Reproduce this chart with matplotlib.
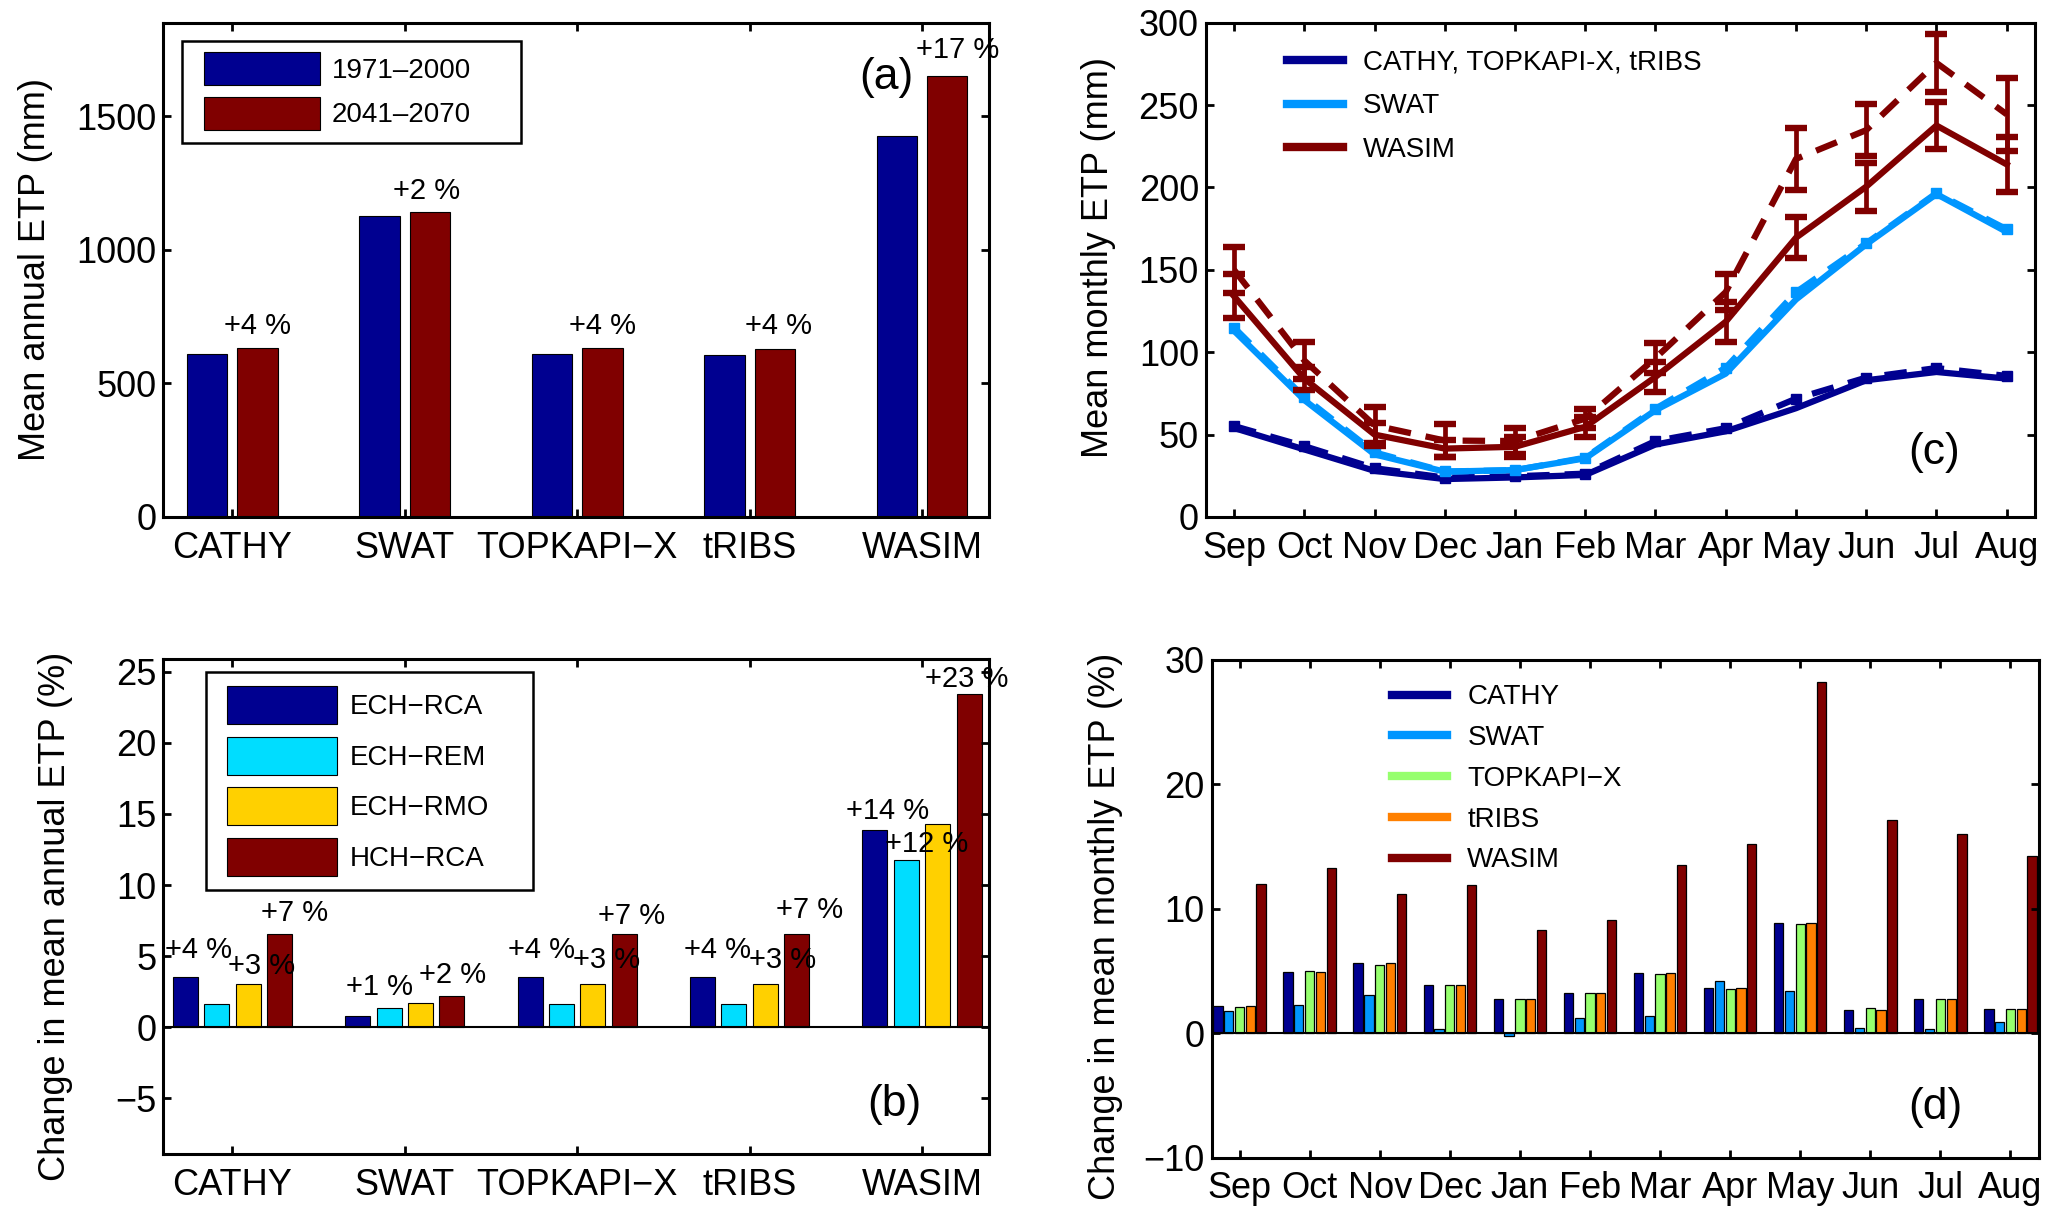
import numpy as np
import matplotlib
matplotlib.use('Agg')
import matplotlib.pyplot as plt
from matplotlib.patches import Patch, Rectangle
from matplotlib.lines import Line2D

plt.rcParams['font.family'] = ['Liberation Sans', 'DejaVu Sans']

# ---------------- data ----------------
models = ['CATHY', 'SWAT', 'TOPKAPI\u2212X', 'tRIBS', 'WASIM']
periods = ['1971\u20132000', '2041\u20132070']
etp_ref = [610, 1125, 610, 605, 1426]
etp_fut = [631, 1143, 631, 627, 1652]
labels_a = ['+4 %', '+2 %', '+4 %', '+4 %', '+17 %']

scenarios = ['ECH\u2212RCA', 'ECH\u2212REM', 'ECH\u2212RMO', 'HCH\u2212RCA']
chg_ech_rca = [3.57, 0.77, 3.57, 3.57, 13.87]
chg_ech_rem = [1.65, 1.37, 1.65, 1.65, 11.76]
chg_ech_rmo = [3.05, 1.73, 3.05, 3.05, 14.31]
chg_hch_rca = [6.54, 2.20, 6.54, 6.54, 23.40]
# (model index, scenario index, text)
labels_b = [(0, 0, '+4 %'), (0, 2, '+3 %'), (0, 3, '+7 %'),
            (1, 0, '+1 %'), (1, 3, '+2 %'),
            (2, 0, '+4 %'), (2, 2, '+3 %'), (2, 3, '+7 %'),
            (3, 0, '+4 %'), (3, 2, '+3 %'), (3, 3, '+7 %'),
            (4, 0, '+14 %'), (4, 1, '+12 %'), (4, 3, '+23 %')]

months = ['Sep', 'Oct', 'Nov', 'Dec', 'Jan', 'Feb', 'Mar', 'Apr', 'May', 'Jun', 'Jul', 'Aug']
line_names = ['CATHY, TOPKAPI-X, tRIBS', 'SWAT', 'WASIM']
cathy_ref = [54, 41, 28, 23, 24, 25.5, 44, 52, 66, 83, 88, 84]
cathy_fut = [55.2, 43, 29.6, 23.9, 24.7, 26.3, 46.1, 53.9, 71.8, 84.6, 90.4, 85.6]
swat_ref = [113, 71, 38, 27.5, 28.5, 35.6, 64.8, 87, 132, 165.5, 196, 173]
swat_fut = [115, 72.6, 39.2, 27.6, 28.4, 36, 65.7, 90.6, 136.4, 166.1, 196.6, 174.6]
wasim_ref = [134, 84, 50, 41.5, 42.6, 54.7, 85, 118.5, 169.5, 200.5, 237.6, 214]
wasim_fut = [150, 95, 55.6, 46.4, 46.1, 59.7, 96.5, 136.5, 217.3, 234.8, 275.6, 244.4]
wasim_ref_err = [13.5, 7, 7, 5, 6, 6, 9, 12, 12.6, 14.6, 14, 16.6]
wasim_fut_err = [14, 11, 11, 10, 8, 6, 9, 11, 18.6, 16, 17.7, 22.2]

cathy_pct = [2.17, 4.87, 5.6, 3.87, 2.77, 3.2, 4.84, 3.62, 8.8, 1.89, 2.74, 1.92]
swat_pct = [1.79, 2.23, 3.05, 0.31, -0.25, 1.19, 1.38, 4.18, 3.36, 0.38, 0.31, 0.91]
topkapi_pct = [2.08, 5.0, 5.44, 3.87, 2.77, 3.2, 4.78, 3.55, 8.77, 2.0, 2.74, 1.92]
tribs_pct = [2.17, 4.87, 5.6, 3.84, 2.74, 3.2, 4.84, 3.62, 8.8, 1.89, 2.74, 1.92]
wasim_pct = [12.0, 13.24, 11.16, 11.86, 8.3, 9.09, 13.46, 15.22, 28.2, 17.1, 16.0, 14.2]

# ---------------- style ----------------
NAVY = '#000090'
MAROON = '#800000'
LBLUE = '#0096FF'
CYAN = '#00DDFF'
GOLD = '#FFD000'
LGREEN = '#96FF6E'
ORANGE = '#FF8000'
TICK_FS = 26
LEG_FS = 20


def style(ax):
    for s in ax.spines.values():
        s.set_linewidth(2.2)
    ax.tick_params(direction='in', length=6, width=2, top=True, right=True,
                   labelsize=TICK_FS)
    ax.tick_params(axis='x', pad=10)
    ax.tick_params(axis='y', pad=5)


def boxed_legend(ax, handles, labels, box, anchor, hl, hh, ls):
    ax.add_patch(Rectangle((box[0], box[1]), box[2] - box[0], box[3] - box[1],
                           transform=ax.transAxes, facecolor='white',
                           edgecolor='k', linewidth=1.8, zorder=4))
    leg = ax.legend(handles, labels, loc='upper left', bbox_to_anchor=anchor,
                    borderaxespad=0, borderpad=0, frameon=False,
                    fontsize=LEG_FS, handlelength=hl, handleheight=hh,
                    handletextpad=0.43, labelspacing=ls)
    leg.set_zorder(5)
    return leg


fig = plt.figure(figsize=(20.66, 12.21), dpi=100)
ax_a = fig.add_axes([0.0791, 0.5768, 0.3997, 0.4046])
ax_c = fig.add_axes([0.5837, 0.5766, 0.4012, 0.4048])
ax_b = fig.add_axes([0.0791, 0.0549, 0.3997, 0.4052])
ax_d = fig.add_axes([0.5864, 0.0520, 0.4003, 0.4078])

# ---------------- (a) ----------------
x5 = np.arange(1, 6)
ax_a.bar(x5 - 0.146, etp_ref, 0.234, color=NAVY, edgecolor='k', linewidth=0.8)
ax_a.bar(x5 + 0.146, etp_fut, 0.234, color=MAROON, edgecolor='k', linewidth=0.8)
a_dx = [0, -0.02, 0, 0.02, 0.061]
a_dy = [85, 77, 85, 86, 95]
for i in range(5):
    ax_a.text(x5[i] + 0.146 + a_dx[i], etp_fut[i] + a_dy[i], labels_a[i],
              ha='center', va='center', fontsize=21)
ax_a.set_xlim(0.6, 5.39)
ax_a.set_ylim(0, 1850)
ax_a.set_xticks(x5)
ax_a.set_xticklabels(models)
ax_a.set_yticks([0, 500, 1000, 1500])
style(ax_a)
ax_a.set_ylabel('Mean annual ETP (mm)', fontsize=26)
ax_a.yaxis.set_label_coords(-0.134, 0.5)
ax_a.text(0.875, 0.89, '(a)', transform=ax_a.transAxes, fontsize=32,
          ha='center', va='center')
h_a = [Patch(facecolor=NAVY, edgecolor='k', linewidth=0.8),
       Patch(facecolor=MAROON, edgecolor='k', linewidth=0.8)]
boxed_legend(ax_a, h_a, periods, box=(0.022, 0.756, 0.4327, 0.962),
             anchor=(0.0494, 0.9407), hl=4.16, hh=1.45, ls=0.42)

# ---------------- (b) ----------------
chg = [chg_ech_rca, chg_ech_rem, chg_ech_rmo, chg_hch_rca]
cols_b = [NAVY, CYAN, GOLD, MAROON]
offs_b = [-0.273, -0.091, 0.091, 0.273]
for k in range(4):
    ax_b.bar(x5 + offs_b[k], chg[k], 0.145, color=cols_b[k], edgecolor='k',
             linewidth=0.8)
b_dx = [0.075, 0.08, 0.085, 0.125, 0.005, 0.065, 0.08, 0.045, 0.085, 0.1, 0.075,
        0.075, 0.12, -0.015]
b_dy = [1.87, 1.29, 1.51, 2.06, 1.45, 1.87, 1.65, 1.29, 1.87, 1.65, 1.7, 1.32,
        1.1, 1.05]
for j, (m, s, t) in enumerate(labels_b):
    ax_b.text(x5[m] + offs_b[s] + b_dx[j], chg[s][m] + b_dy[j], t,
              ha='center', va='center', fontsize=21)
ax_b.axhline(0, color='k', linewidth=1.5)
ax_b.set_xlim(0.6, 5.39)
ax_b.set_ylim(-8.9, 25.87)
ax_b.set_xticks(x5)
ax_b.set_xticklabels(models)
ax_b.set_yticks([-5, 0, 5, 10, 15, 20, 25])
style(ax_b)
ax_b.set_ylabel('Change in mean annual ETP (%)', fontsize=26)
ax_b.yaxis.set_label_coords(-0.109, 0.481)
ax_b.text(0.885, 0.1, '(b)', transform=ax_b.transAxes, fontsize=32,
          ha='center', va='center')
h_b = [Patch(facecolor=c, edgecolor='k', linewidth=0.8) for c in cols_b]
boxed_legend(ax_b, h_b, scenarios, box=(0.0511, 0.534, 0.448, 0.975),
             anchor=(0.0769, 0.946), hl=3.98, hh=1.726, ls=0.457)

# ---------------- (c) ----------------
x12 = np.arange(1, 13)
dash = (0, (3.6, 2.4))
LW = 4.5
ax_c.plot(x12, cathy_ref, color=NAVY, lw=LW, solid_capstyle='butt')
ax_c.plot(x12, cathy_fut, color=NAVY, lw=LW, ls=dash, marker='s', ms=7)
ax_c.plot(x12, swat_ref, color=LBLUE, lw=LW, solid_capstyle='butt')
ax_c.plot(x12, swat_fut, color=LBLUE, lw=LW, ls=dash, marker='s', ms=7)
ax_c.plot(x12, wasim_ref, color=MAROON, lw=LW)
ax_c.plot(x12, wasim_fut, color=MAROON, lw=LW, ls=dash)
ax_c.errorbar(x12, wasim_ref, yerr=wasim_ref_err, fmt='none', ecolor=MAROON,
              elinewidth=3.4, capsize=8, capthick=4.6)
ax_c.errorbar(x12, wasim_fut, yerr=wasim_fut_err, fmt='none', ecolor=MAROON,
              elinewidth=3.4, capsize=8, capthick=4.6)
ax_c.set_xlim(0.6, 12.4)
ax_c.set_ylim(0, 300)
ax_c.set_xticks(x12)
ax_c.set_xticklabels(months)
ax_c.set_yticks(np.arange(0, 301, 50))
style(ax_c)
ax_c.set_ylabel('Mean monthly ETP (mm)', fontsize=26)
ax_c.yaxis.set_label_coords(-0.108, 0.525)
ax_c.text(0.879, 0.13, '(c)', transform=ax_c.transAxes, fontsize=32,
          ha='center', va='center')
h_c = [Line2D([], [], color=c, lw=6) for c in [NAVY, LBLUE, MAROON]]
ax_c.legend(h_c, line_names, loc='upper left', bbox_to_anchor=(0.098, 0.945),
            borderaxespad=0, borderpad=0, frameon=False, fontsize=LEG_FS,
            handlelength=2.0, handletextpad=0.72, labelspacing=0.63)

# ---------------- (d) ----------------
pct = [cathy_pct, swat_pct, topkapi_pct, tribs_pct, wasim_pct]
cols_d = [NAVY, LBLUE, LGREEN, ORANGE, MAROON]
offs_d = [-0.308, -0.154, 0.0, 0.154, 0.308]
for k in range(5):
    ax_d.bar(x12 + offs_d[k], pct[k], 0.132, color=cols_d[k], edgecolor='k',
             linewidth=0.9)
ax_d.axhline(0, color='k', linewidth=1.5)
ax_d.set_xlim(0.6, 12.4)
ax_d.set_ylim(-10, 30)
ax_d.set_xticks(x12)
ax_d.set_xticklabels(months)
ax_d.set_yticks([-10, 0, 10, 20, 30])
style(ax_d)
ax_d.set_ylabel('Change in mean monthly ETP (%)', fontsize=26)
ax_d.yaxis.set_label_coords(-0.107, 0.464)
ax_d.text(0.875, 0.1, '(d)', transform=ax_d.transAxes, fontsize=32,
          ha='center', va='center')
h_d = [Line2D([], [], color=c, lw=6) for c in cols_d]
ax_d.legend(h_d, models, loc='upper left', bbox_to_anchor=(0.218, 0.95),
            borderaxespad=0, borderpad=0, frameon=False, fontsize=LEG_FS,
            handlelength=2.0, handletextpad=0.72, labelspacing=0.53)

fig.savefig('out.png', dpi=100, facecolor='white')
